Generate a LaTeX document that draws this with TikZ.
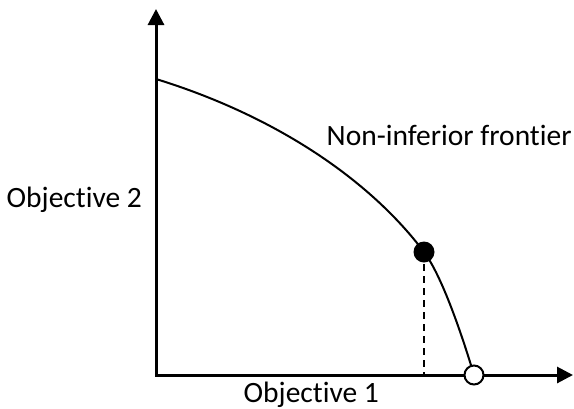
\documentclass[tikz,border=0pt]{standalone}
\usepackage{fontspec}
\setmainfont{Carlito}[Ligatures=NoCommon]
\usetikzlibrary{arrows.meta}
\begin{document}
\begin{tikzpicture}[x=1pt,y=-1pt,
  axis/.style={line width=3pt,line join=miter},
  frontier/.style={line width=2pt},
  guide/.style={line width=2pt,dash pattern=on 7pt off 5pt},
  label/.style={anchor=base west,inner sep=0pt,font=\fontsize{29.5}{34}\selectfont},
  solidpt/.style={circle,fill=black,minimum size=21pt,inner sep=0pt},
  openpt/.style={circle,draw=black,line width=2pt,fill=white,minimum size=19pt,inner sep=0pt}]
\useasboundingbox (0,0) rectangle (574,408);
\coordinate (ytip) at (156,9);
\coordinate (origin) at (156,375);
\coordinate (xtip) at (573,375);
\coordinate (start) at (156,79);
\coordinate (p) at (424,252);
\coordinate (q) at (474,375);
\coordinate (foot) at (424,375);
% axes
\draw[axis,{Triangle[length=16pt,width=16pt]}-{Triangle[length=16pt,width=16pt]}] (ytip) -- (origin) -- (xtip);
% frontier
\draw[frontier] (start) .. controls (276,116) and (370,180) .. (p)
  .. controls (442,276) and (462,335) .. (q);
% guide
\draw[guide] (p) -- (foot);
% points
\node[solidpt] (dot) at (p) {};
\node[openpt] (ring) at (q) {};
% labels
\node[label] (o2) at (6.5,207) {Objective 2};
\node[label] (o1) at (243.5,402) {Objective 1};
\node[label] (nf) at (326.5,145) {Non-inferior frontier};
\end{tikzpicture}
\end{document}
